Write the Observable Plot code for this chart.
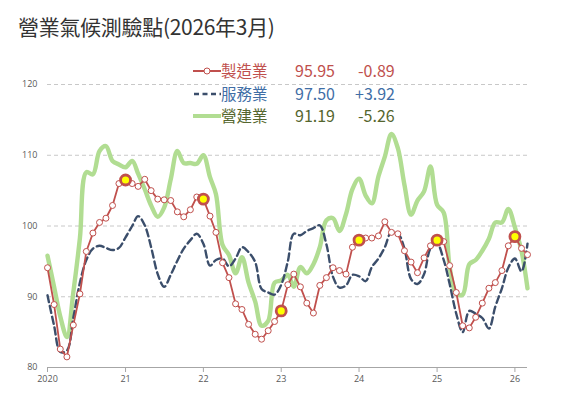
<!DOCTYPE html>
<html><head><meta charset="utf-8">
<script src="https://cdn.jsdelivr.net/npm/d3@7"></script>
<script src="https://cdn.jsdelivr.net/npm/@observablehq/plot@0.6"></script>
<style>
body{margin:0;background:#fff;font-family:"Noto Sans CJK TC","Noto Sans",sans-serif;}
#wrap{position:relative;width:570px;height:413px;overflow:hidden;background:#fff}
#title{position:absolute;left:18px;top:11px;font-size:21px;color:#333;line-height:30px;white-space:nowrap;letter-spacing:-0.3px}
#chart{position:absolute;left:0;top:45px}
#legend{position:absolute;left:0;top:0}
.cell{position:absolute;font-size:15.5px;line-height:20px;white-space:nowrap}
</style></head><body>
<div id="wrap"><div id="title">營業氣候測驗點(2026年3月)</div><div id="chart"></div><div id="legend"></div></div>
<script>
// ---- data ----
const months = d3.utcMonths(new Date(Date.UTC(2020,0,1)), new Date(Date.UTC(2026,3,1)));
const yearTicks = [2020,2021,2022,2023,2024,2025,2026];
const yTicks = [80,90,100,110,120];
const gridTicks = [90,100,110,120];
const seriesNames = ["製造業","服務業","營建業"];

const manufacturing = [
  94.1, 88.9, 82.6, 81.5, 86.0, 90.4, 96.4, 99.0, 100.5, 101.1, 102.9, 106.0,
  106.5, 106.0, 105.6, 106.6, 105.0, 103.8, 103.7, 103.6, 102.0, 101.3, 102.3, 104.1,
  103.8, 101.4, 99.1, 94.8, 92.7, 89.0, 88.2, 86.1, 84.7, 84.0, 85.2, 86.5,
  88.0, 91.7, 93.2, 91.4, 89.1, 87.7, 91.6, 92.7, 94.1, 93.7, 93.2, 97.0,
  98.0, 98.3, 98.3, 98.6, 100.6, 99.1, 98.9, 96.5, 94.9, 93.4, 95.5, 97.2,
  98.0, 97.8, 94.4, 90.6, 85.9, 85.6, 87.1, 89.1, 91.2, 92.0, 93.7, 97.2,
  98.5, 96.84, 95.95
];
const services = [
  90.2, 85.9, 82.2, 82.4, 87.0, 92.0, 95.2, 96.8, 97.2, 96.9, 96.6, 96.9,
  98.4, 100.0, 101.4, 100.1, 97.0, 93.2, 91.4, 93.1, 95.1, 96.8, 98.0, 98.9,
  97.5, 94.4, 95.2, 95.4, 94.3, 95.4, 97.0, 96.3, 94.9, 91.1, 90.6, 90.3,
  91.7, 95.0, 98.9, 98.7, 99.3, 99.7, 100.1, 97.4, 92.8, 91.3, 91.6, 93.1,
  92.9, 92.2, 94.2, 95.4, 97.0, 99.2, 99.0, 96.8, 92.5, 91.8, 93.2, 96.8,
  97.5, 95.2, 91.8, 87.6, 85.0, 88.0, 87.6, 87.0, 85.5, 88.6, 91.2, 94.1,
  95.4, 93.58, 97.50
];
const construction = [
  95.8, 91.4, 87.2, 84.3, 90.6, 98.3, 107.6, 107.3, 110.6, 111.3, 109.2, 108.7,
  108.3, 109.2, 107.4, 105.2, 102.9, 101.3, 102.6, 106.6, 110.6, 108.9, 108.9, 108.8,
  110.0, 106.9, 104.5, 97.3, 95.9, 93.3, 95.6, 92.0, 89.3, 85.9, 86.6, 92.0,
  92.3, 93.1, 91.4, 94.2, 93.3, 94.6, 97.0, 100.8, 101.1, 99.3, 101.7, 105.2,
  106.7, 104.3, 103.2, 107.0, 109.8, 113.0, 111.0, 105.8, 101.6, 103.6, 104.9, 108.4,
  103.0, 101.9, 94.2, 90.4, 90.3, 94.6, 95.2, 96.5, 98.2, 100.5, 100.5, 102.4,
  99.8, 96.45, 91.19
];

const colors = {manu:"#c0504d", serv:"#3b4e6b", cons:"#b1dd92"};
const textColors = ["#c0504d","#3f6ea6","#55662e"];

const rowsM = months.map((d,i)=>({date:d, v:manufacturing[i]}));
const rowsS = months.map((d,i)=>({date:d, v:services[i]}));
const rowsC = months.map((d,i)=>({date:d, v:construction[i]}));
const highlight = rowsM.filter(d => d.date.getUTCMonth()===0 && d.date.getUTCFullYear()>2020);
const xTickDates = yearTicks.map(y => new Date(Date.UTC(y,0,1)));

const chart = Plot.plot({
  width: 570,
  height: 350,
  marginTop: 39,
  marginBottom: 28,
  marginLeft: 47,
  marginRight: 43,
  style: {fontFamily: "'Open Sans','Noto Sans',sans-serif", fontSize: "9px", color:"#595959", background:"#fff"},
  x: {type:"utc", domain:[months[0], months[months.length-1]]},
  y: {domain:[80,120]},
  marks: [
    Plot.gridY(gridTicks, {stroke:"#c8c8c8", strokeOpacity:1, strokeDasharray:"4,3"}),
    Plot.ruleY([80], {stroke:"#a6a6a6"}),
    Plot.axisY(yTicks, {tickSize:0, tickPadding:10, label:null, fill:"#595959"}),
    Plot.axisX(xTickDates, {tickSize:5, tickPadding:3, stroke:"#a6a6a6", label:null, fill:"#595959",
      tickFormat: d => d.getUTCFullYear()===2020 ? "2020" : String(d.getUTCFullYear()%100)}),
    Plot.line(rowsC, {x:"date", y:"v", stroke:colors.cons, strokeWidth:4.4, curve:"catmull-rom"}),
    Plot.line(rowsS, {x:"date", y:"v", stroke:colors.serv, strokeWidth:2.4, strokeDasharray:"7,4", curve:"catmull-rom"}),
    Plot.line(rowsM, {x:"date", y:"v", stroke:colors.manu, strokeWidth:1.8}),
    Plot.dot(rowsM, {x:"date", y:"v", r:3, fill:"#fff", stroke:colors.manu, strokeWidth:1}),
    Plot.dot(highlight, {x:"date", y:"v", r:5, fill:"#ffff00", stroke:colors.manu, strokeWidth:2.8})
  ]
});
document.getElementById("chart").appendChild(chart);

// ---- legend ----
const lastVals = [manufacturing, services, construction].map(a => a[a.length-1]);
const changes = [manufacturing, services, construction].map(a => a[a.length-1]-a[a.length-2]);
const symbols = [
  `<svg width="28" height="12"><line x1="0" y1="6" x2="28" y2="6" stroke="${colors.manu}" stroke-width="2"/><circle cx="14" cy="6" r="3" fill="#fff" stroke="${colors.manu}" stroke-width="1"/></svg>`,
  `<svg width="28" height="12"><line x1="1" y1="6" x2="28" y2="6" stroke="${colors.serv}" stroke-width="2.4" stroke-dasharray="5,3.5"/></svg>`,
  `<svg width="28" height="12"><line x1="0" y1="6" x2="28" y2="6" stroke="${colors.cons}" stroke-width="4"/></svg>`
];
const rowY = [70, 92.5, 115];
const leg = document.getElementById("legend");
seriesNames.forEach((name,i)=>{
  const top = rowY[i]-10;
  const c = textColors[i];
  const ch = changes[i];
  const chStr = (ch>=0?"+":"-") + Math.abs(ch).toFixed(2);
  leg.insertAdjacentHTML("beforeend",
    `<div class="cell" style="left:193px;top:${top+4}px;line-height:12px">${symbols[i]}</div>`+
    `<div class="cell" style="left:221px;top:${top}px;color:${c}">${name}</div>`+
    `<div class="cell" style="left:295px;top:${top}px;color:${c};font-size:16px">${lastVals[i].toFixed(2)}</div>`+
    `<div class="cell" style="left:${ch>=0?355:358}px;top:${top}px;color:${c};font-size:16px">${chStr}</div>`);
});
</script>
</body></html>
